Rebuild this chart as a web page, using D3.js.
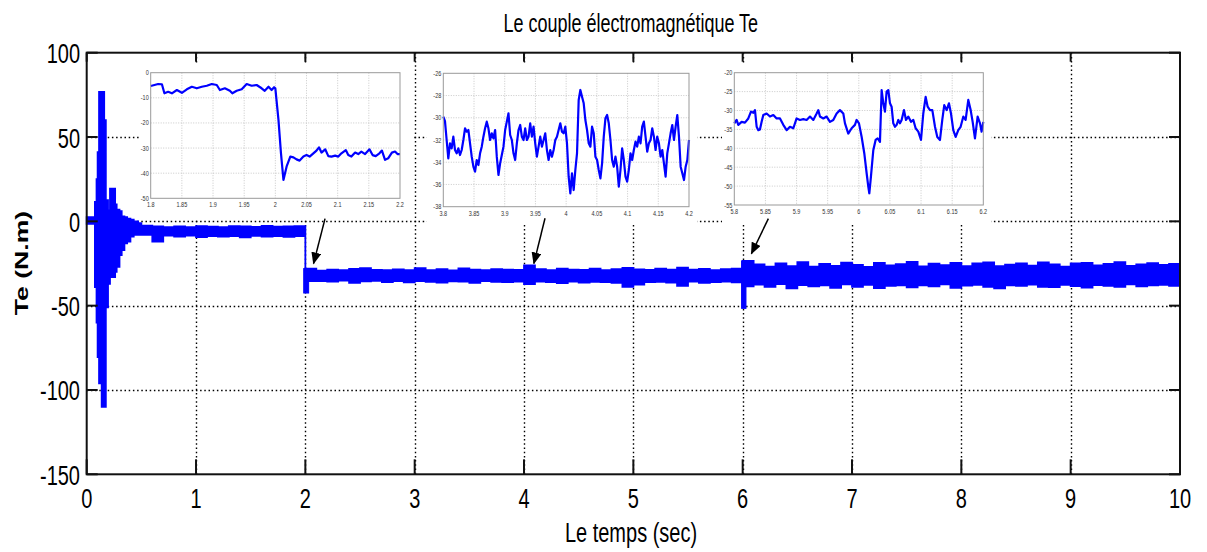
<!DOCTYPE html>
<html><head><meta charset="utf-8">
<script src="https://cdn.jsdelivr.net/npm/d3@7"></script>
<style>body{margin:0;background:#fff}svg{display:block}text{font-family:"Liberation Sans",Arial,sans-serif}</style>
</head><body><svg id="c" width="1207" height="552"></svg>
<script>
// ---------- DATA ----------
const xTicks = [0,1,2,3,4,5,6,7,8,9,10];
const yTicks = [100,50,0,-50,-100,-150];
// transient envelope (start-up)
const trT  = [0, 0.075, 0.09, 0.1, 0.113, 0.137, 0.16, 0.175, 0.195, 0.213, 0.26, 0.274, 0.3, 0.32, 0.345, 0.37, 0.4, 0.43, 0.47];
const trUp = [2.5, 11.5, 25, 41, 76.7, 76.7, 60, 12.5, 6.5, 19.4, 10, 7, 6, 3, 2.5, 1.6, 1, 0, -1];
const trLo = [-1.5, -39, -60, -80.5, -96, -110, -110, -51, -37, -33, -30, -27, -20, -17, -13, -12, -9, -8, -8];
// steady envelope, every 0.1 s from 0.5 to 9.9
const stUp = [
 -2.5,-3,-3.5,-3,-3.5,-2.8,-3.2,-3.5,-2.8,-3,-3.3,-2.7,-3.2,-3,-2.8,
 -28,-29.2,-28.6,-29.0,-28.2,-27.8,-28.8,-29.0,-28.5,-28.9,-27.7,-28.9,-28.4,-29.1,-27.9,-28.6,-29.0,-28.3,-28.7,-28.8,
 -26.2,-28.3,-28.9,-28.1,-28.6,-28.8,-28.0,-29.0,-28.4,-27.6,-28.5,-28.8,-28.0,-28.7,-27.5,-28.6,-28.2,-28.9,-28.3,-28.0,
 -23.5,-25.5,-26.8,-25.0,-26.5,-24.2,-26.9,-25.2,-26.4,-24.5,-25.8,-27.0,-24.6,-26.2,-25.4,-24.0,-26.7,-25.1,-26.0,-24.7,
 -26.5,-25.0,-24.3,-26.6,-25.7,-24.9,-26.3,-24.4,-25.6,-26.8,-25.0,-24.6,-26.1,-25.3,-24.2,-26.4,-25.5,-24.8,-25.9,-25.2];
const stLo = [
 -8,-12,-8.5,-9,-8.5,-9.3,-8.7,-9,-8.8,-9.5,-8.6,-9,-8.7,-9.2,-8.8,
 -35.5,-35.5,-35.8,-35.2,-36.4,-35.6,-35.3,-36.0,-35.5,-36.2,-35.4,-35.9,-36.3,-35.6,-35.8,-36.5,-35.4,-35.9,-36.0,-35.8,
 -37.2,-35.7,-36.1,-36.6,-35.8,-36.3,-35.9,-36.0,-36.4,-38.8,-37.5,-36.1,-35.9,-36.3,-38.3,-35.8,-36.4,-36.0,-35.7,-36.2,
 -38.5,-37.5,-38.8,-37.2,-39.8,-37.8,-38.5,-38.0,-39.5,-37.4,-38.9,-37.6,-39.6,-38.2,-37.9,-39.1,-38.0,-38.6,-37.3,-39.4,
 -38.1,-37.7,-38.9,-39.7,-37.9,-38.3,-37.5,-38.8,-39.0,-37.6,-38.4,-39.3,-37.8,-38.2,-38.9,-37.4,-38.6,-38.0,-37.7,-38.3];
// short spikes at load steps
const spStart = [1.985, 5.99];
const spEnd   = [2.03, 6.03];
const spUp    = [-28, -23.5];
const spLo    = [-42.5, -51.6];

// inset 1 : 1.8 .. 2.2
const in1T = [1.800,1.812,1.818,1.822,1.828,1.834,1.842,1.850,1.858,1.866,1.874,1.882,1.890,1.898,1.906,1.911,1.919,1.927,1.931,1.938,1.946,1.954,1.962,1.970,1.978,1.983,1.989,1.994,1.998,2.000,2.005,2.009,2.013,2.018,2.024,2.029,2.034,2.039,2.045,2.050,2.055,2.061,2.066,2.070,2.074,2.080,2.085,2.090,2.096,2.101,2.106,2.113,2.117,2.122,2.128,2.133,2.138,2.144,2.151,2.156,2.161,2.167,2.171,2.176,2.181,2.187,2.192,2.196,2.200];
const in1V = [-5.3,-4.5,-4.6,-8.2,-7.6,-8.2,-6.9,-8.0,-6.6,-5.6,-6.2,-5.6,-5.2,-4.5,-4.9,-6.9,-6.2,-7.2,-8.2,-7.2,-6.6,-4.5,-5.2,-4.9,-6.2,-7.2,-5.6,-6.9,-5.8,-6.2,-18.8,-32,-42.7,-37.4,-33.4,-33.7,-34.5,-35,-33.4,-32.8,-33.4,-32.1,-31,-29.7,-31.8,-30.5,-33.2,-33.4,-33,-33.4,-32.1,-30.8,-32.8,-33.4,-31.8,-32.4,-31.4,-32.4,-30.5,-32.8,-33.2,-32.1,-31,-34.7,-34.1,-31.8,-31.4,-32.4,-32.4];
const in1XTicks = [1.8,1.85,1.9,1.95,2,2.05,2.1,2.15,2.2];
const in1YTicks = [0,-10,-20,-30,-40,-50];

// inset 2 : 3.8 .. 4.2, evenly sampled
const in2V = [-29.9,-30.3,-32,-33.65,-32.3,-32.75,-31.7,-32.9,-33.2,-32.75,-33.35,-32.9,-32,-30.95,-31.25,-31.1,-32.3,-33.5,-34.4,-34.85,-33.8,-34.25,-33.2,-32.6,-31.7,-30.95,-30.35,-30.95,-32,-31.4,-31.85,-31.1,-33.5,-35.15,-34.1,-33.35,-32.6,-31.1,-30.35,-29.6,-31.55,-32,-33.2,-33.8,-32.3,-31.1,-30.65,-31.7,-32,-30.95,-32,-31.7,-30.5,-31.7,-30.8,-32.3,-33.5,-32.6,-31.7,-32.6,-32,-31.4,-32.9,-33.8,-32.9,-33.5,-32.9,-32,-31.7,-31.1,-30.5,-31.25,-31.4,-30.8,-32.3,-35.3,-36.8,-35,-36.5,-34.7,-33.2,-28.4,-27.5,-28.1,-28.7,-30.2,-31.1,-32.3,-32.6,-30.8,-31.4,-33.5,-33.8,-34.7,-35.45,-34.1,-31.7,-30.05,-29.75,-30.5,-32,-33.8,-34.4,-33.5,-34.4,-36.2,-34.7,-32.75,-33.8,-35.3,-35.75,-34.7,-33.2,-33.8,-32.9,-32.15,-32.6,-31.7,-32.3,-30.8,-30.35,-31.7,-33.05,-32.3,-32,-30.95,-31.7,-32.9,-31.7,-32.3,-33.5,-32.9,-34.1,-35.3,-33.2,-32.3,-31.4,-30.65,-32,-30.8,-29.75,-31.7,-34.4,-35,-35.6,-34.4,-33.8,-32];
const in2XTicks = [3.8,3.85,3.9,3.95,4,4.05,4.1,4.15,4.2];
const in2YTicks = [-26,-28,-30,-32,-34,-36,-38];

// inset 3 : 5.8 .. 6.2
const in3T = [5.8000,5.8037,5.8064,5.8118,5.8171,5.8225,5.8268,5.8305,5.8332,5.8359,5.8386,5.8412,5.8439,5.8466,5.8519,5.8573,5.8627,5.8680,5.8734,5.8787,5.8841,5.8894,5.8948,5.9001,5.9055,5.9108,5.9162,5.9216,5.9269,5.9323,5.9349,5.9376,5.9430,5.9483,5.9537,5.9590,5.9644,5.9697,5.9751,5.9778,5.9831,5.9885,5.9938,5.9965,6.0003,6.0046,6.0088,6.0126,6.0153,6.0169,6.0195,6.0233,6.0270,6.0303,6.0340,6.0367,6.0394,6.0420,6.0447,6.0474,6.0501,6.0527,6.0554,6.0581,6.0608,6.0635,6.0661,6.0688,6.0726,6.0758,6.0795,6.0838,6.0876,6.0913,6.0956,6.0999,6.1036,6.1074,6.1106,6.1143,6.1181,6.1224,6.1261,6.1304,6.1341,6.1373,6.1411,6.1448,6.1481,6.1518,6.1556,6.1598,6.1636,6.1679,6.1716,6.1759,6.1797,6.1829,6.1866,6.1909,6.1947,6.1973,6.2000];
const in3V = [-33.4,-32.5,-33.8,-33,-33.2,-32.1,-30.3,-30.6,-29.9,-34.3,-35.2,-35,-33,-31.2,-30.8,-31.6,-31.2,-32.1,-32.1,-33.8,-35.2,-34.3,-34.7,-32.1,-32.5,-32.3,-32.5,-31.6,-32.5,-30.8,-29.9,-31.6,-32.1,-31.6,-33,-32.5,-30.8,-29.9,-30.8,-33.4,-36.1,-34.7,-33.8,-32.5,-33.4,-37,-41.3,-46.6,-50.2,-51.9,-47.5,-40.5,-37.8,-37.4,-38.3,-24.6,-28.1,-30.3,-25,-24.6,-28.1,-29,-33.4,-34.3,-33.8,-32.5,-33.4,-32.5,-29.9,-32.5,-31.6,-33,-32.5,-34.7,-35.6,-37.8,-30.8,-26.4,-29,-29.9,-29.9,-34.3,-37,-37.8,-32.5,-28.6,-29.9,-28.1,-30.8,-35.2,-37,-35.2,-34.3,-31.6,-32.5,-27.2,-29.9,-33,-37.4,-31.6,-33.4,-35.6,-33];
const in3XTicks = [5.8,5.85,5.9,5.95,6,6.05,6.1,6.15,6.2];
const in3YTicks = [-20,-25,-30,-35,-40,-45,-50,-55];

// arrows (data units): from -> to
const arFromT = [2.18, 4.192, 6.235], arFromV = [1.6, 1.8, 1.6];
const arToT   = [2.075, 4.09, 6.08],  arToV   = [-25, -25, -19.2];

// ---------- DRAW ----------
const svg = d3.select("#c");
const BLUE = "#0000ff";
const x = d3.scaleLinear([0,10],[86.7,1180]);
const y = d3.scaleLinear([-150,100],[474.3,52.7]);
const snap = v => Math.round(v) + 0.5;

function txt(g, px, py, s, size, anchor, extra){
  const t = g.append("text").attr("transform",`translate(${px},${py}) scale(1,1.4)`)
    .attr("text-anchor",anchor).attr("font-size",size).attr("fill","#000").text(s);
  if(extra) extra(t);
  return t;
}

// grid
const grid = svg.append("g").attr("stroke","#000").attr("stroke-width",1.4).attr("stroke-dasharray","1.5 2.7");
xTicks.slice(1,-1).forEach(v=>grid.append("line").attr("x1",snap(x(v))).attr("x2",snap(x(v))).attr("y1",y(100)).attr("y2",y(-150)));
yTicks.slice(1,-1).forEach(v=>grid.append("line").attr("y1",snap(y(v))).attr("y2",snap(y(v))).attr("x1",x(0)).attr("x2",x(10)));

// main trace
const stT = d3.range(95).map(i=>+(0.5+0.1*i).toFixed(2));
const pts = trT.map((t,i)=>({t,u:trUp[i],l:trLo[i]}))
  .concat(stT.map((t,i)=>({t,u:stUp[i],l:stLo[i]})));
pts.push({t:10,u:stUp[stUp.length-1],l:stLo[stLo.length-1]});
const area = d3.area().x(d=>x(d.t)).y0(d=>y(d.l)).y1(d=>y(d.u)).curve(d3.curveStepAfter);
svg.append("path").datum(pts).attr("d",area).attr("fill",BLUE).attr("stroke",BLUE).attr("stroke-width",1.8);
spStart.forEach((s,i)=>{
  svg.append("rect").attr("x",x(s)).attr("width",x(spEnd[i])-x(s)).attr("y",y(spUp[i])).attr("height",y(spLo[i])-y(spUp[i]))
    .attr("fill",BLUE).attr("stroke",BLUE).attr("stroke-width",1);
});

// axes frame + ticks
const ax = svg.append("g").attr("stroke","#111").attr("stroke-width",2).attr("fill","none");
ax.append("rect").attr("x",x(0)).attr("y",y(100)).attr("width",x(10)-x(0)).attr("height",y(-150)-y(100));
xTicks.forEach(v=>{
  ax.append("line").attr("x1",x(v)).attr("x2",x(v)).attr("y1",y(-150)).attr("y2",y(-150)-15);
  ax.append("line").attr("x1",x(v)).attr("x2",x(v)).attr("y1",y(100)).attr("y2",y(100)+9);
});
yTicks.forEach(v=>{
  ax.append("line").attr("y1",y(v)).attr("y2",y(v)).attr("x1",x(0)).attr("x2",x(0)+11);
  ax.append("line").attr("y1",y(v)).attr("y2",y(v)).attr("x1",x(10)).attr("x2",x(10)-11);
});
xTicks.forEach(v=>txt(svg, x(v), 508, String(v), 20, "middle"));
yTicks.forEach(v=>txt(svg, 80, y(v)+10.5, String(v), 20, "end"));

// insets
function inset(box, plot, xd, yd, xt, yt, T, V){
  const g = svg.append("g");
  g.append("rect").attr("x",box[0]).attr("y",box[1]).attr("width",box[2]-box[0]).attr("height",box[3]-box[1]).attr("fill","#fff");
  const ix = d3.scaleLinear(xd,[plot[0],plot[2]]);
  const iy = d3.scaleLinear(yd,[plot[3],plot[1]]);
  const gg = g.append("g").attr("stroke","#bbb").attr("stroke-width",0.8).attr("stroke-dasharray","1 1.5");
  xt.slice(1,-1).forEach(v=>gg.append("line").attr("x1",ix(v)).attr("x2",ix(v)).attr("y1",plot[1]).attr("y2",plot[3]));
  yt.slice(1,-1).forEach(v=>gg.append("line").attr("y1",iy(v)).attr("y2",iy(v)).attr("x1",plot[0]).attr("x2",plot[2]));
  const line = d3.line().x((d,i)=>ix(T[i])).y(d=>iy(d));
  g.append("path").datum(V).attr("d",line).attr("fill","none").attr("stroke",BLUE).attr("stroke-width",2.2).attr("stroke-linejoin","round");
  g.append("rect").attr("x",plot[0]).attr("y",plot[1]).attr("width",plot[2]-plot[0]).attr("height",plot[3]-plot[1])
    .attr("fill","none").attr("stroke","#999").attr("stroke-width",1);
  const fmt = v=>String(+v.toFixed(2));
  xt.forEach(v=>txt(g, ix(v), plot[3]+9, fmt(v), 5.5, "middle", t=>t.attr("fill","#333")));
  yt.forEach(v=>txt(g, plot[0]-2, iy(v)+2.5, fmt(v), 5.5, "end", t=>t.attr("fill","#333")));
}
inset([139,63,412,219],[150.7,72.7,400,198.3],[1.8,2.2],[-50,0],in1XTicks,in1YTicks,in1T,in1V);
const in2T = in2V.map((v,i)=>3.8+0.4*i/(in2V.length-1));
inset([427,63,697,224],[443.3,73.3,689,206.7],[3.8,4.2],[-38,-26],in2XTicks,in2YTicks,in2T,in2V);
inset([722,63,991,224],[734.3,72.7,983.3,205],[5.8,6.2],[-55,-20],in3XTicks,in3YTicks,in3T,in3V);

// arrows
svg.append("defs").append("marker").attr("id","ah").attr("markerUnits","userSpaceOnUse")
  .attr("markerWidth",12).attr("markerHeight",10).attr("refX",11).attr("refY",5).attr("orient","auto")
  .append("path").attr("d","M0,0 L12,5 L0,10 Z").attr("fill","#000");
arFromT.forEach((t,i)=>{
  svg.append("line").attr("x1",x(t)).attr("y1",y(arFromV[i])).attr("x2",x(arToT[i])).attr("y2",y(arToV[i]))
    .attr("stroke","#000").attr("stroke-width",1.5).attr("marker-end","url(#ah)");
});

// labels
txt(svg, 630.8, 31.7, "Le couple électromagnétique Te", 18, "middle");
txt(svg, 631, 541.7, "Le temps (sec)", 20, "middle");
svg.append("text").attr("transform","translate(28,263) scale(1,1.4) rotate(-90)").attr("text-anchor","middle")
  .attr("font-size",19).attr("font-weight","bold").text("Te (N.m)");
</script></body></html>
